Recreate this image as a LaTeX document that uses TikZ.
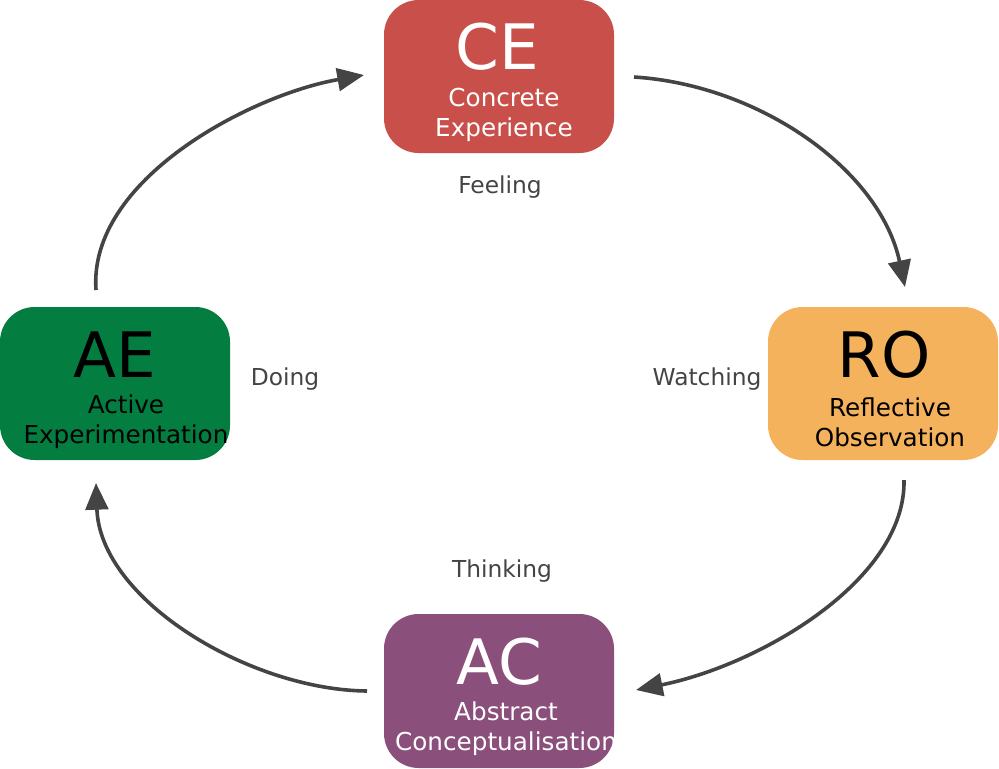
\documentclass[tikz,border=0pt]{standalone}
\usepackage{fontspec}
\setmainfont{DejaVu Sans}
\usetikzlibrary{arrows.meta}
\definecolor{ceC}{HTML}{C9504A}
\definecolor{roC}{HTML}{F5B25C}
\definecolor{acC}{HTML}{8B4F7C}
\definecolor{aeC}{HTML}{047D40}
\definecolor{arr}{HTML}{444444}
\begin{document}
\begin{tikzpicture}[x=0.75pt,y=-0.75pt,
  box/.style={rounded corners=26pt,inner sep=0pt},
  big/.style={font=\fontsize{47}{47}\selectfont},
  small/.style={font=\fontsize{18.5}{22.5}\selectfont,align=center},
  lab/.style={font=\fontsize{17.5}{20}\selectfont,text=arr},
  cyc/.style={draw=arr,line width=2.7pt,-{Triangle[length=20pt,width=17pt]}}]
\useasboundingbox (0,0) rectangle (999,768);
\fill[ceC,box] (384,0) rectangle (614,153);
\fill[roC,box] (768,307) rectangle (998,460);
\fill[acC,box] (384,614) rectangle (614,768);
\fill[aeC,box] (0,307) rectangle (230,460);
\begin{scope}
\clip (384,0) rectangle (614,153);
\node[big,text=white] (ce) at (497,47) {CE};
\node[small,text=white] (cet) at (504,115) {Concrete\\Experience};
\end{scope}
\node[big] (ro) at (884,355) {RO};
\node[small] (rot) at (890,422) {Reflective\\Observation};
\begin{scope}
\clip (384,614) rectangle (614,768);
\node[big,text=white] (ac) at (499,662) {AC};
\node[small,text=white] (act) at (506,729) {Abstract\\Conceptualisation};
\end{scope}
\node[big] (ae) at (115,355) {AE};
\node[small] (aet) at (126,422) {Active\\Experimentation};
\node[lab] (feel) at (500,187) {Feeling};
\node[lab] (watch) at (707,379) {Watching};
\node[lab] (doing) at (285,379) {Doing};
\node[lab] (think) at (502,571) {Thinking};
\coordinate (a1) at (96,290); \coordinate (b1) at (364,75);
\coordinate (a2) at (634,77); \coordinate (b2) at (905,287);
\coordinate (a3) at (904,480); \coordinate (b3) at (636,690);
\coordinate (a4) at (367,691); \coordinate (b4) at (96,483);
\draw[cyc] (a1) .. controls (88,180) and (250,95) .. (b1);
\draw[cyc] (a2) .. controls (760,85) and (880,170) .. (b2);
\draw[cyc] (a3) .. controls (906,580) and (760,665) .. (b3);
\draw[cyc] (a4) .. controls (250,690) and (100,600) .. (b4);
\end{tikzpicture}
\end{document}
